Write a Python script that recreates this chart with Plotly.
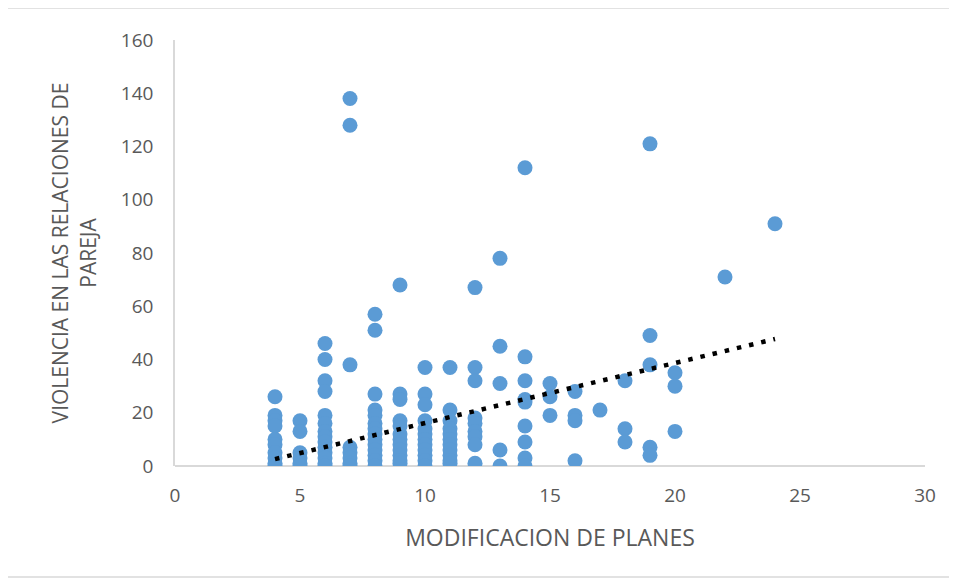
import plotly.graph_objects as go

# Data (x = MODIFICACION DE PLANES, y = VIOLENCIA ...)
x_levels = [4, 5, 6, 7, 8, 9, 10, 11, 12, 13, 14, 15, 16, 17, 18, 19, 20, 22, 24]
y_at_4 = [26, 19, 17, 15, 10, 8, 5, 3, 1, 0]
y_at_5 = [17, 13, 5, 3, 1, 0]
y_at_6 = [46, 40, 32, 28, 19, 16, 13, 11, 9, 7, 5, 3, 1, 0]
y_at_7 = [138, 128, 38, 7, 5, 3, 1, 0]
y_at_8 = [57, 51, 27, 21, 19, 16, 14, 12, 10, 8, 6, 4, 2, 0]
y_at_9 = [68, 27, 25, 17, 15, 12, 10, 8, 6, 4, 2, 1]
y_at_10 = [37, 27, 23, 17, 14, 12, 10, 8, 6, 4, 2, 0]
y_at_11 = [37, 21, 17, 14, 12, 10, 8, 6, 4, 2, 1]
y_at_12 = [67, 37, 32, 18, 16, 13, 11, 8, 1]
y_at_13 = [78, 45, 31, 6, 0]
y_at_14 = [112, 41, 32, 25, 24, 15, 9, 3, 0]
y_at_15 = [31, 26, 19]
y_at_16 = [28, 19, 17, 2]
y_at_17 = [21]
y_at_18 = [32, 14, 9]
y_at_19 = [121, 49, 38, 7, 4]
y_at_20 = [35, 30, 13]
y_at_22 = [71]
y_at_24 = [91]

y_groups = [y_at_4, y_at_5, y_at_6, y_at_7, y_at_8, y_at_9, y_at_10, y_at_11,
            y_at_12, y_at_13, y_at_14, y_at_15, y_at_16, y_at_17, y_at_18,
            y_at_19, y_at_20, y_at_22, y_at_24]

# Linear trendline endpoints
trend_x = [4, 24]
trend_y = [2.6, 47.7]

x_ticks = [0, 5, 10, 15, 20, 25, 30]
y_ticks = [0, 20, 40, 60, 80, 100, 120, 140, 160]

xs, ys = [], []
for xv, grp in zip(x_levels, y_groups):
    for yv in grp:
        xs.append(xv)
        ys.append(yv)

FONT = "Open Sans"
GREY = "#595959"

fig = go.Figure()
fig.add_trace(go.Scatter(
    x=xs, y=ys, mode="markers",
    marker=dict(color="#5B9BD5", size=15, line=dict(width=0)),
    showlegend=False, hoverinfo="x+y"))
fig.add_trace(go.Scatter(
    x=trend_x, y=trend_y, mode="lines",
    line=dict(color="black", width=4.5, dash="4.5px,8px"),
    showlegend=False, hoverinfo="skip"))

# the page body adds an 8px offset; the figure is sized to compensate
fig.update_layout(
    width=949, height=571,
    margin=dict(l=167, r=32, t=32, b=113),
    paper_bgcolor="white", plot_bgcolor="white",
    font=dict(family=FONT, color=GREY, size=19),
    xaxis=dict(
        range=[0, 30], tickvals=x_ticks, showgrid=False, zeroline=False,
        showline=False, ticks="", tickfont=dict(size=19, color=GREY),
        ticklabelstandoff=16,
        title=dict(text="MODIFICACION DE PLANES",
                   font=dict(size=23, color=GREY), standoff=22)),
    yaxis=dict(
        range=[0, 160], tickvals=y_ticks, showgrid=False, zeroline=True,
        zerolinecolor="#D9D9D9", zerolinewidth=1.5,
        showline=True, linecolor="#D9D9D9", linewidth=1.5, ticks="",
        tickfont=dict(size=19, color=GREY), ticklabelstandoff=16,
        title=dict(text="VIOLENCIA EN LAS RELACIONES DE<br>PAREJA",
                   font=dict(size=21, color=GREY), standoff=19)),
    shapes=[dict(type="rect", xref="paper", yref="paper",
                 x0=-0.2267, x1=1.0333, y0=-0.2606, y1=1.0751,
                 line=dict(color="#D9D9D9", width=1.5), layer="below")],
)

fig.write_html("out.html")
